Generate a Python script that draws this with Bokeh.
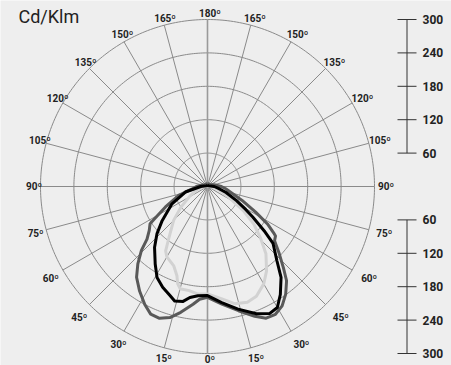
import numpy as np
from bokeh.plotting import figure
from bokeh.models import Range1d
from bokeh.core.properties import value
from bokeh.embed import file_html
from bokeh.resources import INLINE

# ---- data (angles in degrees from nadir, intensities in cd/klm) ----
ring_values = [60, 120, 180, 240, 300]
scale_labels = ["60", "120", "180", "240", "300"]
spoke_angles = list(range(-180, 181, 15))
label_angles = [0, 15, 30, 45, 60, 75, 90, 105, 120, 135, 150, 165, 180,
                -15, -30, -45, -60, -75, -90, -105, -120, -135, -150, -165]

angles_dark = [-180, -150, -120, -105, -90, -81, -73, -64, -59, -57, -53, -49, -46, -42,
               -38, -33, -28, -24, -20, -16, -12, -7, -4, 0, 7, 14, 20, 24, 28, 32, 36,
               40, 43, 47, 51, 54, 55, 58, 62, 68, 83, 90, 105, 120, 150, 180]
values_dark = [5, 5, 6, 10, 20, 28, 54, 84, 109, 123, 131, 144, 165, 187,
               207, 224, 240, 251, 252, 245, 231, 213, 203, 199, 213, 230, 248, 259, 260, 253, 239,
               221, 200, 176, 155, 151, 145, 127, 98, 67, 33, 25, 12, 6, 5, 5]

angles_black = [-180, -120, -90, -76, -64, -53, -47, -41, -34, -29, -24, -19, -16, -12, -9,
                -5, 0, 7, 14, 21, 26, 30, 34, 39, 43, 49, 52, 56, 59, 64, 72, 80, 90, 120, 180]
values_black = [2, 3, 12, 41, 71, 102, 124, 145, 168, 187, 198, 207, 214, 211, 202,
                197, 196, 210, 227, 245, 254, 251, 234, 210, 183, 156, 129, 98, 80, 58, 35, 20, 12, 3, 2]

angles_light = [-180, -120, -90, -75, -62, -52, -45, -37, -33, -30, -23, -19, -17, -15, -10,
                -5, 0, 7, 13, 19, 24, 30, 35, 41, 46, 51, 56, 62, 75, 90, 120, 180]
values_light = [2, 2, 6, 18, 35, 61, 86, 115, 138, 146, 155, 169, 183, 190, 190,
                194, 193, 203, 216, 220, 216, 202, 185, 160, 132, 107, 78, 47, 20, 6, 2, 2]

# ---- layout ----
S = 300.0 / 167.0          # cd/klm per pixel
W, H = 451, 365
CX, CY = 207, 186          # polar centre in figure pixels
BG = "#eeeeee"
FONT = value("Roboto")

p = figure(width=W, height=H, output_backend="svg", toolbar_location=None,
           x_range=Range1d(-CX * S, (W - CX) * S), y_range=Range1d(-(H - CY) * S, CY * S),
           x_axis_location=None, y_axis_location=None, min_border=0)
p.grid.visible = False
p.outline_line_color = None
p.background_fill_color = BG
p.border_fill_color = BG


def polar(ang, r):
    a = np.radians(np.asarray(ang, dtype=float))
    r = np.asarray(r, dtype=float)
    return r * np.sin(a), -r * np.cos(a)


# rings
t = np.linspace(0, 360, 361)
for rv in ring_values:
    x, y = polar(t, np.full_like(t, rv))
    p.line(x, y, line_color="#8a8a8a", line_width=1)

# spokes
for a in spoke_angles:
    if a in (0, 180, -180):
        continue
    x, y = polar([a, a], [0, ring_values[-1]])
    p.line(x, y, line_color="#8a8a8a", line_width=1)
p.line([0, 0], [-ring_values[-1], ring_values[-1]], line_color="#9a9a9a", line_width=1.6)

# curves
for ang, val, col in [(angles_dark, values_dark, "#595959"),
                      (angles_light, values_light, "#d2d2d2"),
                      (angles_black, values_black, "#000000")]:
    x, y = polar(ang, val)
    p.line(x, y, line_color=col, line_width=3, line_join="round")

# angle labels
la = np.array(label_angles, dtype=float)
rad = np.radians(la)
rl = 176 + 9 * np.clip(np.sin(2 * np.abs(rad)), 0, None) - 3 * np.cos(rad) ** 8
lx = (2.5 + rl * np.sin(rad)) * S
ly = -(rl * np.cos(rad)) * S
p.text(lx, ly, text=[f"{abs(int(a))}º" for a in label_angles], text_font=FONT,
       text_font_size="10px", text_font_style="bold", text_color="#222222",
       text_align="center", text_baseline="middle")

# scale bars
sx = 199.5 * S
for sign in (1, -1):
    p.line([sx, sx], [sign * ring_values[0], sign * ring_values[-1]], line_color="#333333", line_width=1)
    for rv in ring_values:
        p.line([190 * S, 209 * S], [sign * rv, sign * rv], line_color="#333333", line_width=1)
    p.text([215 * S] * len(ring_values), [sign * rv for rv in ring_values], text=scale_labels,
           text_font=FONT, text_font_size="12px", text_font_style="bold", text_color="#222222",
           text_align="left", text_baseline="middle")

# title
p.text([-189 * S], [170 * S], text=["Cd/Klm"], text_font=FONT, text_font_size="18px",
       text_color="#222222", text_align="left", text_baseline="middle")

open("out.html", "w").write(file_html(p, INLINE))
